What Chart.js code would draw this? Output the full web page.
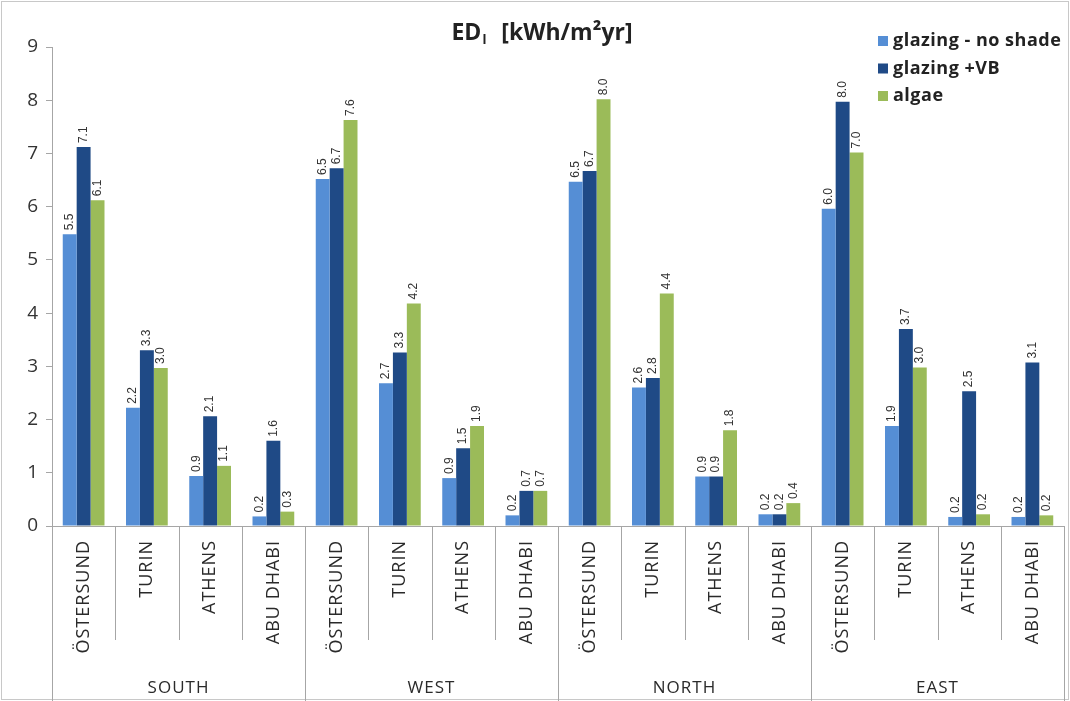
<!DOCTYPE html>
<html>
<head>
<meta charset="utf-8">
<script src="https://cdn.jsdelivr.net/npm/chart.js@4"></script>
<style>
  html, body { margin: 0; padding: 0; background: #fff; }
  #wrap { width: 1070px; height: 701px; }
</style>
</head>
<body>
<div id="wrap"><canvas id="edChart" width="1070" height="701"></canvas></div>
<script>
// données
const groups = ['SOUTH', 'WEST', 'NORTH', 'EAST'];
const cities = ['ÖSTERSUND', 'TURIN', 'ATHENS', 'ABU DHABI'];
const yTicks = [0, 1, 2, 3, 4, 5, 6, 7, 8, 9];

const noShade   = [5.48, 2.22, 0.94, 0.18,  6.52, 2.68, 0.90, 0.20,  6.47, 2.60, 0.93, 0.22,  5.96, 1.88, 0.17, 0.17];
const glazingVB = [7.12, 3.30, 2.06, 1.60,  6.72, 3.26, 1.46, 0.66,  6.67, 2.78, 0.93, 0.22,  7.97, 3.70, 2.53, 3.07];
const algae     = [6.12, 2.97, 1.13, 0.27,  7.63, 4.18, 1.88, 0.66,  8.02, 4.37, 1.80, 0.43,  7.02, 2.98, 0.22, 0.20];

const seriesNames = ['glazing - no shade', 'glazing +VB', 'algae'];
const seriesColors = ['#558ed5', '#1f4a86', '#9bbb59'];

const labels = [];
groups.forEach(g => cities.forEach(c => labels.push(c)));

const FONT = '"Open Sans", Lato, sans-serif';

const drawExtras = {
    id: 'drawExtras',
    afterDraw(chart) {
        const ctx = chart.ctx;
        const area = chart.chartArea;
        const xs = chart.scales.x;
        const catW = (area.right - area.left) / labels.length;
        ctx.save();

        // cadre extérieur
        ctx.strokeStyle = '#c8c8c8';
        ctx.lineWidth = 1;
        ctx.strokeRect(1.5, 1.5, chart.width - 3, chart.height - 3);

        // titre avec indice
        ctx.fillStyle = '#222';
        ctx.textBaseline = 'alphabetic';
        ctx.textAlign = 'left';
        ctx.font = 'bold 23px ' + FONT;
        const partA = 'ED', partC = '[kWh/m²yr]';
        const wA = ctx.measureText(partA).width;
        ctx.font = 'bold 13px ' + FONT;
        const wB = ctx.measureText('l').width + 16;
        ctx.font = 'bold 23px ' + FONT;
        const wC = ctx.measureText(partC).width;
        let tx = 542 - (wA + wB + wC) / 2;
        const ty = 40;
        ctx.fillText(partA, tx, ty);
        ctx.font = 'bold 13px ' + FONT;
        ctx.fillText('l', tx + wA + 1, ty + 4);
        ctx.font = 'bold 23px ' + FONT;
        ctx.fillText(partC, tx + wA + wB, ty);

        // légende
        ctx.font = 'bold 18px ' + FONT;
        ctx.letterSpacing = '0.5px';
        ctx.textBaseline = 'middle';
        seriesNames.forEach((name, i) => {
            const ly = 41 + i * 27.5;
            ctx.fillStyle = seriesColors[i];
            ctx.fillRect(878, ly - 5, 10, 10);
            ctx.fillStyle = '#222';
            ctx.fillText(name, 893, ly);
        });
        ctx.letterSpacing = '0px';

        // étiquettes de valeurs (verticales)
        ctx.font = '12px "Liberation Sans", Arial, sans-serif';
        ctx.fillStyle = '#333';
        ctx.textAlign = 'left';
        ctx.textBaseline = 'middle';
        chart.data.datasets.forEach((ds, di) => {
            const meta = chart.getDatasetMeta(di);
            meta.data.forEach((bar, i) => {
                ctx.save();
                ctx.translate(bar.x, bar.y - 4);
                ctx.rotate(-Math.PI / 2);
                ctx.fillText(ds.data[i].toFixed(1), 0, 0);
                ctx.restore();
            });
        });

        // axe X : ligne, séparateurs, libellés
        ctx.strokeStyle = '#a6a6a6';
        ctx.lineWidth = 1;
        ctx.beginPath();
        ctx.moveTo(area.left, Math.round(area.bottom) + 0.5);
        ctx.lineTo(area.right, Math.round(area.bottom) + 0.5);
        for (let i = 0; i <= labels.length; i++) {
            const x = Math.round(area.left + i * catW) + 0.5;
            ctx.moveTo(x, area.bottom);
            ctx.lineTo(x, i % 4 === 0 ? chart.height : area.bottom + 114);
        }
        ctx.stroke();

        ctx.fillStyle = '#2a2a2a';
        ctx.font = '18px ' + FONT;
        ctx.letterSpacing = '1px';
        ctx.textAlign = 'right';
        ctx.textBaseline = 'middle';
        labels.forEach((lab, i) => {
            const cx = xs.getPixelForValue(i);
            ctx.save();
            ctx.translate(cx, area.bottom + 14);
            ctx.rotate(-Math.PI / 2);
            ctx.fillText(lab, 0, 0);
            ctx.restore();
        });

        ctx.textAlign = 'center';
        ctx.font = '17px ' + FONT;
        ctx.letterSpacing = '1px';
        groups.forEach((g, gi) => {
            const cx = area.left + (gi * 4 + 2) * catW;
            ctx.fillText(g, cx, 688);
        });
        ctx.letterSpacing = '0px';

        ctx.restore();
    }
};

const canvas = document.getElementById('edChart');
new Chart(canvas, {
    type: 'bar',
    data: {
        labels: labels,
        datasets: seriesNames.map((name, i) => ({
            label: name,
            data: [noShade, glazingVB, algae][i],
            backgroundColor: seriesColors[i],
            borderWidth: 0,
            categoryPercentage: 0.66,
            barPercentage: 1.0
        }))
    },
    options: {
        responsive: false,
        animation: false,
        layout: { padding: { top: 47, right: 6, bottom: 175, left: 0 } },
        plugins: {
            legend: { display: false },
            title: { display: false },
            tooltip: { enabled: false }
        },
        scales: {
            x: { display: false },
            y: {
                min: 0,
                max: 9,
                afterFit: scale => { scale.width = 52; },
                afterBuildTicks: scale => { scale.ticks = yTicks.map(v => ({ value: v })); },
                ticks: {
                    color: '#333',
                    font: { family: FONT, size: 19 },
                    padding: 8
                },
                grid: { drawOnChartArea: false, drawTicks: true, tickLength: 6, color: '#a6a6a6' },
                border: { color: '#a6a6a6' }
            }
        }
    },
    plugins: [drawExtras]
});
</script>
</body>
</html>
